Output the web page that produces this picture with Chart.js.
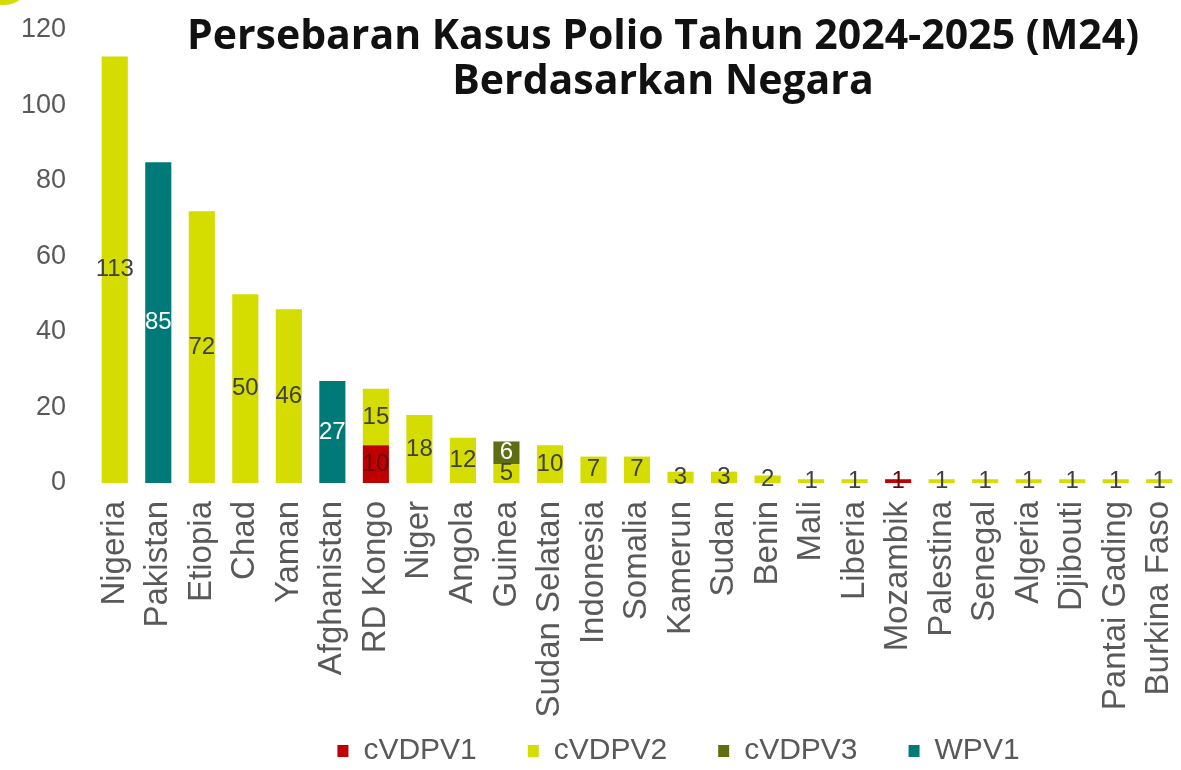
<!DOCTYPE html>
<html><head><meta charset="utf-8">
<script src="https://cdn.jsdelivr.net/npm/chart.js@4/dist/chart.umd.min.js"></script>
<style>html,body{margin:0;padding:0;background:#fff}#wrap{width:1181px;height:770px}</style>
</head><body><div id="wrap"><canvas id="c" width="1181" height="770"></canvas></div>
<script>
const categories = ["Nigeria","Pakistan","Etiopia","Chad","Yaman","Afghanistan","RD Kongo","Niger","Angola","Guinea","Sudan Selatan","Indonesia","Somalia","Kamerun","Sudan","Benin","Mali","Liberia","Mozambik","Palestina","Senegal","Algeria","Djibouti","Pantai Gading","Burkina Faso"];
const cVDPV1 = [null,null,null,null,null,null,10,null,null,null,null,null,null,null,null,null,null,null,1,null,null,null,null,null,null];
const cVDPV2 = [113,null,72,50,46,null,15,18,12,5,10,7,7,3,3,2,1,1,null,1,1,1,1,1,1];
const cVDPV3 = [null,null,null,null,null,null,null,null,null,6,null,null,null,null,null,null,null,null,null,null,null,null,null,null,null];
const WPV1 = [null,85,null,null,null,27,null,null,null,null,null,null,null,null,null,null,null,null,null,null,null,null,null,null,null];
const yTickMin = 0, yTickMax = 120, yTickStep = 20;
const titleLines = ["Persebaran Kasus Polio Tahun 2024-2025 (M24)", "Berdasarkan Negara"];

const labelColors = ["#6a0000", "#404040", "#ffffff", "#ffffff"];
const LEGEND_PAD = 51;

const dataLabelPlugin = {
  id: 'dataLabels',
  afterDatasetsDraw(chart) {
    const ctx = chart.ctx;
    ctx.save();
    ctx.font = '24px "Liberation Sans", Arial, sans-serif';
    ctx.textAlign = 'center';
    ctx.textBaseline = 'middle';
    chart.data.datasets.forEach((ds, i) => {
      const meta = chart.getDatasetMeta(i);
      meta.data.forEach((el, j) => {
        const v = ds.data[j];
        if (v == null || v <= 0) return;
        ctx.fillStyle = labelColors[i];
        ctx.fillText(String(v), el.x, (el.y + el.base) / 2);
      });
    });
    ctx.restore();
  }
};

const titlePlugin = {
  id: 'customTitle',
  afterDraw(chart) {
    const ctx = chart.ctx;
    ctx.save();
    // decorative corner arc
    ctx.fillStyle = '#d4dc00';
    ctx.beginPath();
    ctx.arc(4, -22, 27, 0, Math.PI * 2);
    ctx.fill();
    const fam = '"Open Sans", "DejaVu Sans", sans-serif';
    ctx.font = 'bold 100px ' + fam;
    const w = ctx.measureText(titleLines[0]).width;
    const size = Math.round(100 * 960 / w);
    ctx.font = 'bold ' + size + 'px ' + fam;
    ctx.fillStyle = '#111111';
    ctx.textAlign = 'center';
    ctx.textBaseline = 'middle';
    ctx.fillText(titleLines[0], 663, 37);
    ctx.fillText(titleLines[1], 663, 82);
    ctx.restore();
  }
};

const layoutTweak = {
  id: 'layoutTweak',
  afterLayout(chart) {
    const lg = chart.legend;
    if (lg) {
      lg.left += 88; lg.right += 88;
      const h = lg.bottom - lg.top;
      const newTop = 749 - LEGEND_PAD - 13;
      lg.top = newTop; lg.bottom = newTop + h;
    }
    const x = chart.scales.x;
    x.bottom = 745; x.height = x.bottom - x.top;
  }
};

new Chart(document.getElementById('c'), {
  type: 'bar',
  data: {
    labels: categories,
    datasets: [
      { label: 'cVDPV1', data: cVDPV1, backgroundColor: '#c00000' },
      { label: 'cVDPV2', data: cVDPV2, backgroundColor: '#d4dc00' },
      { label: 'cVDPV3', data: cVDPV3, backgroundColor: '#5f6e12' },
      { label: 'WPV1', data: WPV1, backgroundColor: '#007a78' }
    ]
  },
  options: {
    responsive: false,
    animation: false,
    devicePixelRatio: 1,
    datasets: { bar: { barPercentage: 0.6, categoryPercentage: 1.0 } },
    layout: { padding: { top: 30, left: 0, right: 0, bottom: 0 } },
    plugins: {
      title: { display: false },
      tooltip: { enabled: false },
      legend: {
        position: 'bottom',
        labels: {
          boxWidth: 11, boxHeight: 12, padding: LEGEND_PAD,
          font: { size: 30, family: '"Liberation Sans", Arial, sans-serif' },
          color: '#595959'
        }
      }
    },
    scales: {
      x: {
        stacked: true,
        grid: { display: false },
        border: { display: false },
        ticks: {
          autoSkip: false, maxRotation: 90, minRotation: 90, padding: 10,
          font: { size: 33, family: '"Liberation Sans", Arial, sans-serif' },
          color: '#595959'
        },
        afterFit(s) {
          s.height = 770 - 483 - (s.chart.legend ? s.chart.legend.height : 40);
          s.paddingLeft = 0; s.paddingRight = 0;
        }
      },
      y: {
        stacked: true,
        min: yTickMin, max: yTickMax,
        grid: { display: false, drawTicks: false },
        border: { display: false },
        ticks: {
          stepSize: yTickStep, padding: 27,
          font: { size: 27, family: '"Liberation Sans", Arial, sans-serif' },
          color: '#595959'
        },
        afterFit(s) { s.width = 93; s.paddingTop = 0; s.paddingBottom = 0; }
      }
    }
  },
  plugins: [dataLabelPlugin, titlePlugin, layoutTweak]
});
</script></body></html>
